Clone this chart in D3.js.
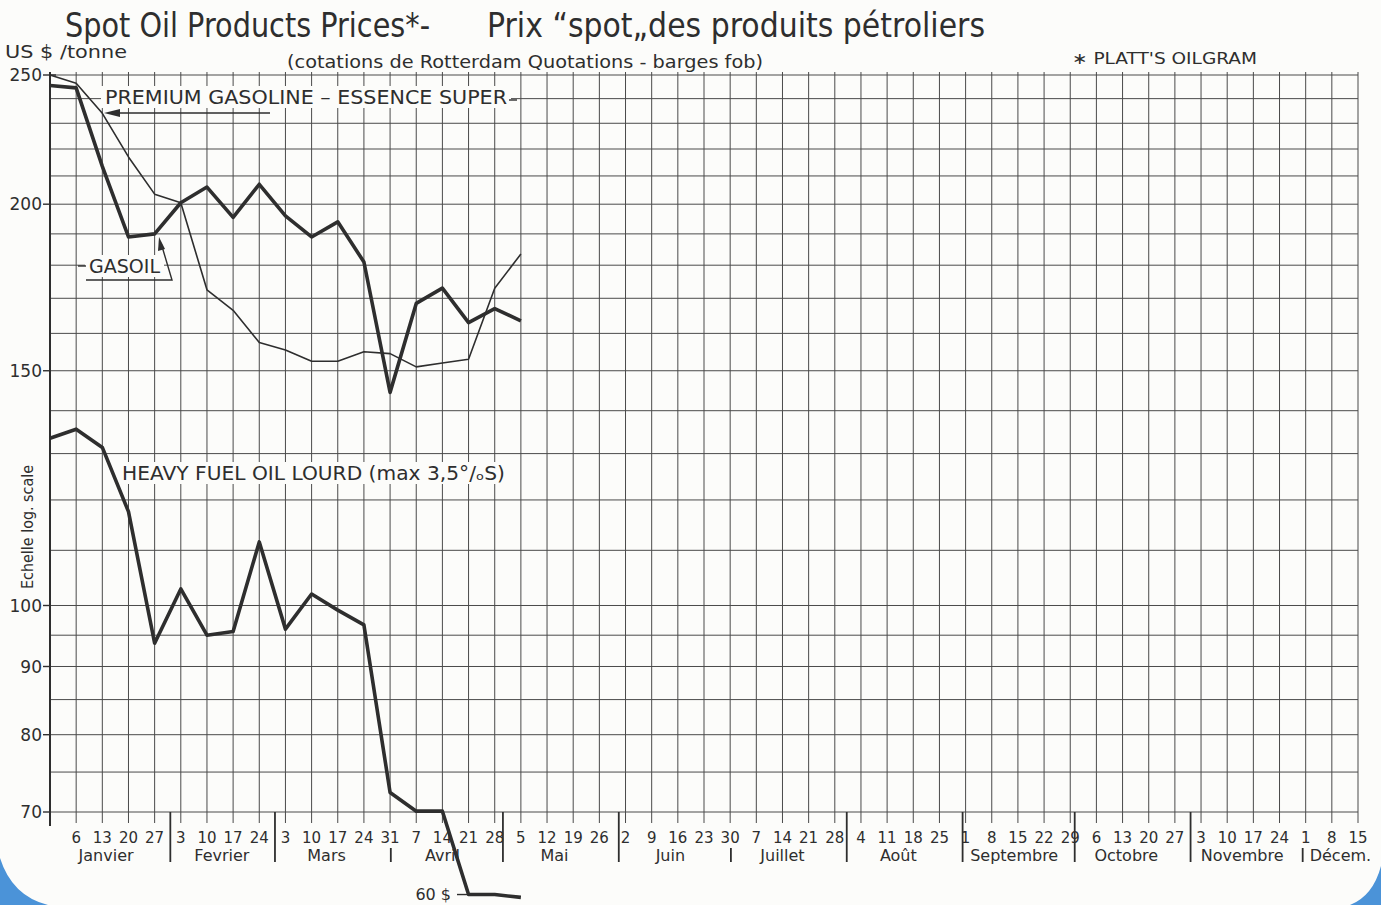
<!DOCTYPE html>
<html>
<head>
<meta charset="utf-8">
<script src="https://cdn.jsdelivr.net/npm/d3@7"></script>
<style>
  body { margin: 0; background: #fcfcfa; }
  text { font-family: "DejaVu Sans", sans-serif; fill: #2e2e2e; }
</style>
</head>
<body>
<svg id="chart" width="1381" height="905"></svg>
<script>
// weekly quotations, 1986 (first point = 30 Dec 1985)
var weeks = ["1985-12-30", "1986-01-06", "1986-01-13", "1986-01-20", "1986-01-27",
             "1986-02-03", "1986-02-10", "1986-02-17", "1986-02-24", "1986-03-03",
             "1986-03-10", "1986-03-17", "1986-03-24", "1986-03-31", "1986-04-07",
             "1986-04-14", "1986-04-21", "1986-04-28", "1986-05-05"];
var gasoline = [250, 246.5, 234, 217, 203.5, 200.5, 172.5, 166.5, 157.5, 155.5,
                152.5, 152.5, 155, 154.5, 151, 152, 153, 173, 183.5];
var gasoil = [245.5, 244.5, 213.5, 189, 190, 200.5, 206, 195.5, 207, 196,
              189, 194, 181, 144.5, 168.5, 173, 163, 167, 163.5];
var heavyFuel = [133.5, 135.6, 131.4, 117.6, 93.7, 102.9, 95, 95.6, 111.6, 96,
                 102, 99.2, 96.7, 72.4, 70.1, 70.1, 60.7, 60.7, 60.4];

var gridValues = [250, 240, 230, 220, 210, 200, 190, 180, 170, 160, 150, 140, 130,
                  120, 110, 100, 95, 90, 85, 80, 75, 70];
var yLabels = [250, 200, 150, 100, 90, 80, 70];
var months = ["Janvier", "Fevrier", "Mars", "Avril", "Mai", "Juin", "Juillet",
              "Août", "Septembre", "Octobre", "Novembre", "Décem."];
var shortMarks = [3, 6, 11];   // separators squeezed by a date label

var svg = d3.select("#chart");
var ink = "#2e2e2e";
var parse = d3.utcParse("%Y-%m-%d");

var x = d3.scaleUtc()
    .domain([parse("1985-12-30"), parse("1986-12-15")])
    .range([50, 1358]);
var y = d3.scaleLog().domain([70, 250]).range([812, 75]);

// paper corners
svg.append("path").attr("d", "M0,858 Q12,896 48,905 L0,905 Z").attr("fill", "#4b93d8");
svg.append("path").attr("d", "M1381,866 Q1373,896 1350,905 L1381,905 Z").attr("fill", "#4b93d8");

// horizontal grid
svg.append("g").selectAll("line").data(gridValues).enter().append("line")
    .attr("x1", 50).attr("x2", 1358)
    .attr("y1", function(d) { return y(d); }).attr("y2", function(d) { return y(d); })
    .attr("stroke", "#4a4a4a").attr("stroke-width", 1);

// weekly vertical grid (Mondays)
var mondays = d3.utcMonday.range(parse("1986-01-06"), d3.utcDay.offset(parse("1986-12-15"), 1));
svg.append("g").selectAll("line").data(mondays).enter().append("line")
    .attr("x1", function(d) { return x(d); }).attr("x2", function(d) { return x(d); })
    .attr("y1", 72).attr("y2", 823)
    .attr("stroke", "#4a4a4a").attr("stroke-width", 1);

// left axis
svg.append("line").attr("x1", 50).attr("x2", 50).attr("y1", 72).attr("y2", 826)
    .attr("stroke", ink).attr("stroke-width", 2);
var yAxis = svg.append("g");
yLabels.forEach(function(v) {
  yAxis.append("line").attr("x1", 43).attr("x2", v === 250 ? 56 : 50).attr("y1", y(v)).attr("y2", y(v))
      .attr("stroke", ink).attr("stroke-width", 1.4);
  yAxis.append("text").attr("x", 42).attr("y", y(v)).attr("dy", "0.36em")
      .attr("text-anchor", "end").attr("font-size", 17).text(v);
});

// week labels
var fmtDay = d3.utcFormat("%-d");
svg.append("g").selectAll("text").data(mondays).enter().append("text")
    .attr("x", function(d) { return x(d); }).attr("y", 843)
    .attr("text-anchor", "middle").attr("font-size", 15).text(fmtDay);

// month separators and names
var monthStarts = d3.utcMonth.range(parse("1986-01-01"), parse("1986-12-02"));
monthStarts.forEach(function(m, i) {
  var mx = x(m) - 3;
  if (i > 0) {
    var short = shortMarks.indexOf(i) >= 0;
    svg.append("line").attr("x1", mx).attr("x2", mx)
        .attr("y1", short ? 848 : 812).attr("y2", 862)
        .attr("stroke", ink).attr("stroke-width", 1.8);
  }
  var mid = x(d3.utcDay.offset(m, 13));
  var t = svg.append("text").attr("y", 861).attr("font-size", 16).text(months[i]);
  if (i === 11) t.attr("x", mx + 7).attr("text-anchor", "start");
  else t.attr("x", mid).attr("text-anchor", "middle");
});

// titles
svg.append("text").attr("x", 65).attr("y", 37).attr("font-size", 34)
    .attr("textLength", 365).attr("lengthAdjust", "spacingAndGlyphs")
    .text("Spot Oil Products Prices*-");
svg.append("text").attr("x", 487).attr("y", 37).attr("font-size", 34)
    .attr("textLength", 498).attr("lengthAdjust", "spacingAndGlyphs")
    .text("Prix \u201Cspot\u201Edes produits pétroliers");
svg.append("text").attr("x", 5).attr("y", 58).attr("font-size", 18)
    .attr("textLength", 122).attr("lengthAdjust", "spacingAndGlyphs")
    .text("US $ /tonne");
svg.append("text").attr("x", 287).attr("y", 68).attr("font-size", 18)
    .attr("textLength", 476).attr("lengthAdjust", "spacingAndGlyphs")
    .text("(cotations de Rotterdam Quotations - barges fob)");
svg.append("text").attr("x", 1072).attr("y", 64).attr("font-size", 16)
    .attr("textLength", 185).attr("lengthAdjust", "spacingAndGlyphs")
    .text("\u2217 PLATT'S  OILGRAM");
svg.append("text").attr("transform", "translate(33,527) rotate(-90)")
    .attr("text-anchor", "middle").attr("font-size", 15)
    .attr("textLength", 124).attr("lengthAdjust", "spacingAndGlyphs")
    .text("Echelle log. scale");

// series labels with paper background
function tag(txt, x0, yc, w) {
  svg.append("rect").attr("x", x0 - 4).attr("y", yc - 11).attr("width", w + 8).attr("height", 22)
      .attr("fill", "#fcfcfa");
  svg.append("text").attr("x", x0).attr("y", yc).attr("dy", "0.36em").attr("font-size", 19)
      .attr("textLength", w).attr("lengthAdjust", "spacingAndGlyphs").text(txt);
}
tag("PREMIUM GASOLINE \u2013 ESSENCE SUPER", 105, 97, 402);
tag("GASOIL", 89, 266, 71);
tag("HEAVY FUEL OIL LOURD (max 3,5\u00B0/\u2092S)", 122, 473, 383);

// leaders and arrows
var lead = svg.append("g").attr("stroke", ink).attr("stroke-width", 1.4).attr("fill", "none");
lead.append("line").attr("x1", 509).attr("x2", 517).attr("y1", 100).attr("y2", 100);
lead.append("line").attr("x1", 270).attr("x2", 112).attr("y1", 113).attr("y2", 113);
lead.append("line").attr("x1", 78).attr("x2", 86).attr("y1", 266).attr("y2", 266);
lead.append("polyline").attr("points", "86,280 172,280 161,243");
svg.append("path").attr("d", "M104,113 L120,109 L120,117 Z").attr("fill", ink);
svg.append("path").attr("d", "M159,237 L158,251 L165,249 Z").attr("fill", ink);

// series
var line = d3.line()
    .x(function(d, i) { return x(parse(weeks[i])); })
    .y(function(d) { return y(d); });
svg.append("path").datum(gasoline).attr("d", line).attr("fill", "none")
    .attr("stroke", ink).attr("stroke-width", 1.6).attr("stroke-linejoin", "round");
svg.append("path").datum(gasoil).attr("d", line).attr("fill", "none")
    .attr("stroke", ink).attr("stroke-width", 3.6).attr("stroke-linejoin", "round");
svg.append("path").datum(heavyFuel).attr("d", line).attr("fill", "none")
    .attr("stroke", ink).attr("stroke-width", 3.6).attr("stroke-linejoin", "round");

// 60 $ marker
var y60 = y(heavyFuel[16]);
svg.append("line").attr("x1", 457).attr("x2", x(parse(weeks[16]))).attr("y1", y60).attr("y2", y60)
    .attr("stroke", ink).attr("stroke-width", 1.4);
svg.append("text").attr("x", 451).attr("y", y60).attr("dy", "0.36em")
    .attr("text-anchor", "end").attr("font-size", 16).text("60 $");
</script>
</body>
</html>
